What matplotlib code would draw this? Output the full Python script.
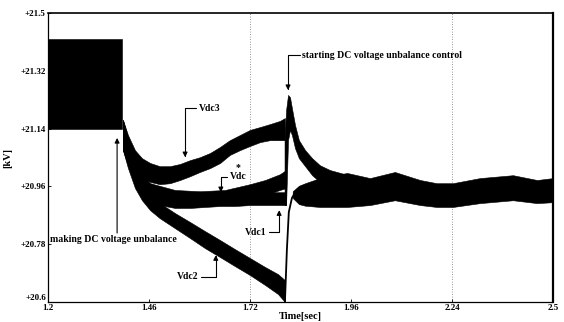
import matplotlib.pyplot as plt

plt.rcParams['font.family'] = ['Liberation Serif', 'DejaVu Serif']
plt.rcParams['font.weight'] = 'bold'

# envelopes of the ripple bands (time in sec, voltage in kV)
t_pre = [1.200, 1.390]
pre_hi = [21.42, 21.42]
pre_lo = [21.14, 21.14]

t_vdc3 = [1.393, 1.406, 1.424, 1.442, 1.463, 1.488, 1.514, 1.540, 1.566, 1.591,
          1.617, 1.643, 1.668, 1.694, 1.720, 1.746, 1.771, 1.797, 1.810]
vdc3_hi = [21.167, 21.120, 21.073, 21.048, 21.033, 21.023, 21.023, 21.030, 21.042, 21.051,
           21.064, 21.083, 21.104, 21.120, 21.136, 21.145, 21.154, 21.164, 21.173]
vdc3_lo = [21.073, 21.042, 21.011, 20.986, 20.974, 20.967, 20.970, 20.980, 20.992, 21.005,
           21.017, 21.033, 21.058, 21.073, 21.086, 21.098, 21.104, 21.104, 21.104]

t_vdc1 = [1.393, 1.406, 1.424, 1.442, 1.463, 1.488, 1.527, 1.566, 1.604, 1.643,
          1.681, 1.720, 1.759, 1.792, 1.813]
vdc1_hi = [21.167, 21.111, 21.042, 20.995, 20.970, 20.955, 20.942, 20.939, 20.939, 20.939,
           20.939, 20.939, 20.942, 20.942, 20.942]
vdc1_lo = [21.073, 21.026, 20.970, 20.939, 20.917, 20.902, 20.893, 20.893, 20.896, 20.899,
           20.899, 20.902, 20.902, 20.902, 20.902]

t_ref = [1.463, 1.527, 1.591, 1.656, 1.720, 1.759, 1.797, 1.813]
ref_hi = [20.970, 20.949, 20.945, 20.949, 20.967, 20.980, 20.998, 21.011]
ref_lo = [20.924, 20.908, 20.905, 20.908, 20.924, 20.933, 20.949, 20.955]

t_vdc2 = [1.393, 1.406, 1.424, 1.442, 1.463, 1.488, 1.527, 1.566, 1.604, 1.643,
          1.681, 1.720, 1.759, 1.792, 1.810]
vdc2_hi = [21.167, 21.104, 21.026, 20.970, 20.933, 20.908, 20.877, 20.849, 20.821, 20.793,
           20.765, 20.737, 20.709, 20.687, 20.668]
vdc2_lo = [21.073, 21.017, 20.955, 20.917, 20.886, 20.861, 20.830, 20.799, 20.768, 20.740,
           20.712, 20.684, 20.653, 20.625, 20.600]

# Vdc2 recovering after the control starts
t_rise = [1.810, 1.815, 1.820, 1.828, 1.838, 1.849, 1.864]
v_rise = [20.600, 20.762, 20.880, 20.924, 20.945, 20.958, 20.964]

# overshoot when the control is switched on
t_spike = [1.809, 1.813, 1.818, 1.823, 1.828, 1.836, 1.846, 1.862, 1.880, 1.900, 1.926, 1.965]
spike_hi = [21.104, 21.198, 21.245, 21.238, 21.204, 21.151, 21.104, 21.073, 21.048, 21.026,
            21.011, 20.998]
spike_lo = [20.902, 20.902, 21.104, 21.136, 21.120, 21.079, 21.048, 21.023, 20.995, 20.974,
            20.949, 20.917]

t_post = [1.830, 1.846, 1.862, 1.900, 1.970, 2.029, 2.093, 2.158, 2.201, 2.242, 2.312, 2.397,
          2.459, 2.500]
post_hi = [20.945, 20.962, 20.970, 20.986, 21.002, 20.986, 21.005, 20.980, 20.970, 20.970,
           20.986, 20.995, 20.980, 20.986]
post_lo = [20.924, 20.905, 20.900, 20.896, 20.896, 20.902, 20.917, 20.902, 20.896, 20.896,
           20.908, 20.917, 20.908, 20.911]

xticks = [1.2, 1.46, 1.72, 1.98, 2.24, 2.5]
xlabels = ['1.2', '1.46', '1.72', '1.96', '2.24', '2.5']
yticks = [20.6, 20.78, 20.96, 21.14, 21.32, 21.5]
ylabels = ['+20.6', '+20.78', '+20.96', '+21.14', '+21.32', '+21.5']
grid_x = [1.72, 2.24]

fig = plt.figure(figsize=(5.64, 3.22), dpi=100)
ax = fig.add_axes([0.085, 0.062, 0.8955, 0.8975])

for gx in grid_x:
    ax.axvline(gx, color='0.45', lw=0.6, ls=(0, (1, 2)), zorder=0)

bands = [(t_pre, pre_lo, pre_hi), (t_vdc3, vdc3_lo, vdc3_hi), (t_vdc1, vdc1_lo, vdc1_hi),
         (t_ref, ref_lo, ref_hi), (t_vdc2, vdc2_lo, vdc2_hi), (t_spike, spike_lo, spike_hi),
         (t_post, post_lo, post_hi)]
for t, lo, hi in bands:
    ax.fill_between(t, lo, hi, color='black', lw=0.4)
ax.plot(t_rise, v_rise, color='black', lw=1.3)

ax.set_xlim(1.2, 2.5)
ax.set_ylim(20.6, 21.5)
ax.set_xticks(xticks)
ax.set_xticklabels(xlabels)
ax.set_yticks(yticks)
ax.set_yticklabels(ylabels)
ax.tick_params(direction='in', length=2.5, width=0.6, labelsize=6.5, pad=1.5)
# lowest y label sits just above the corner, as in the scan
ax.get_yticklabels()[0].set_va('bottom')
ax.set_xlabel('Time[sec]', fontsize=7.5, fontweight='bold', labelpad=0)
ax.set_ylabel('[kV]', fontsize=7.5, fontweight='bold')
ax.yaxis.set_label_coords(-0.07, 0.5)

ax.spines['top'].set_linewidth(1.2)
ax.spines['right'].set_linewidth(1.6)
for s in ['left', 'bottom']:
    ax.spines[s].set_linestyle((0, (1, 1)))
    ax.spines[s].set_linewidth(0.9)

arrow = dict(arrowstyle='-|>', color='black', lw=0.8, mutation_scale=7, shrinkA=0, shrinkB=0,
             connectionstyle='angle,angleA=0,angleB=90,rad=0')
fs = 7
ax.annotate('Vdc3', xy=(1.553, 21.051), xytext=(1.589, 21.204), ha='left', va='center',
            fontsize=fs, arrowprops=arrow)
ax.annotate('starting DC voltage unbalance control', xy=(1.818, 21.26), xytext=(1.855, 21.369),
            ha='left', va='center', fontsize=fs, arrowprops=arrow)
ax.annotate('Vdc', xy=(1.645, 20.942), xytext=(1.668, 20.990), ha='left', va='center',
            fontsize=fs, arrowprops=arrow)
ax.text(1.690, 21.020, '*', ha='center', va='center', fontsize=fs)
ax.annotate('Vdc1', xy=(1.795, 20.886), xytext=(1.706, 20.818), ha='left', va='center',
            fontsize=fs, arrowprops=arrow)
ax.annotate('Vdc2', xy=(1.632, 20.746), xytext=(1.532, 20.678), ha='left', va='center',
            fontsize=fs, arrowprops=arrow)
ax.annotate('', xy=(1.378, 21.111), xytext=(1.378, 20.815),
            arrowprops=dict(arrowstyle='-|>', color='black', lw=0.8, mutation_scale=7,
                            shrinkA=0, shrinkB=0))
ax.text(1.205, 20.795, 'making DC voltage unbalance', ha='left', va='center', fontsize=fs)

fig.savefig('out.png', dpi=100)
